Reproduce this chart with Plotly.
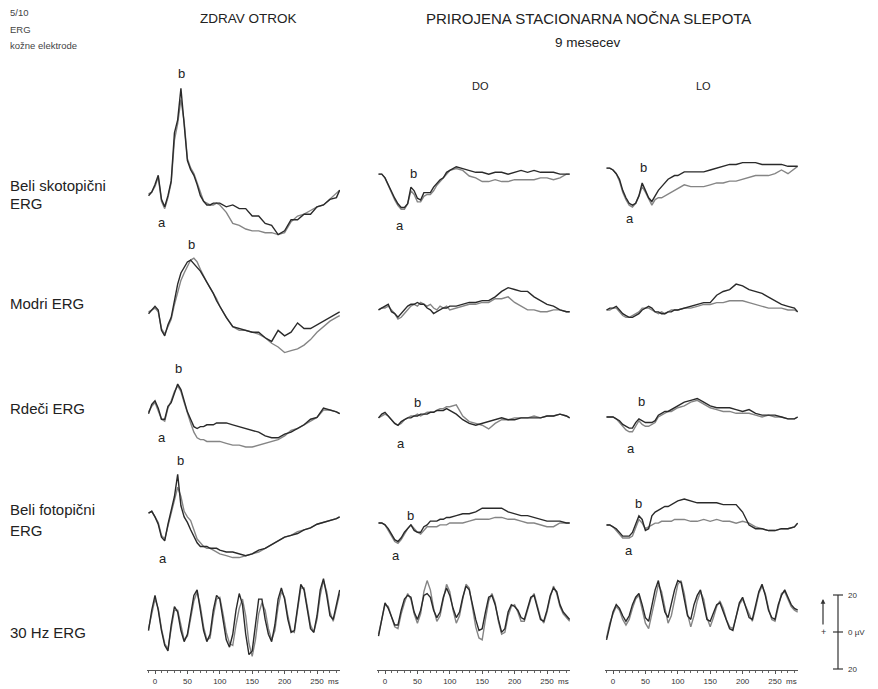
import plotly.graph_objects as go

# ---------------- data (µV, relative to pre-stimulus baseline) ----------------
t_ms = [-10, -5, 0, 5, 10, 15, 20, 25, 30, 35, 40, 45, 50, 55, 60, 65, 70, 75, 80, 85, 90, 95, 100,
        110, 120, 130, 140, 150, 160, 170, 180, 190, 200, 210, 220, 230, 240, 250, 260, 270, 280, 285]
t_flicker = list(range(-10, 290, 5))

# Beli skotopični ERG
skot_zdrav_a = [-2, 0, 4, 9, -4, -8, -2, 6, 32, 39, 56, 36, 17, 12, 9, 4, -2, -5, -7, -7, -6, -6, -6,
                -8, -7, -9, -9, -13, -13, -17, -18, -23, -21, -15, -15, -12, -12, -8, -7, -4, -3, 1]
skot_zdrav_b = [-1, 0, 3, 8, -5, -9, -3, 5, 28, 37, 50, 38, 18, 13, 10, 5, -1, -5, -6, -7, -7, -6, -7,
                -11, -17, -18, -20, -21, -21, -22, -22, -23, -22, -16, -13, -12, -10, -8, -7, -4, -1, 1]
skot_do_a = [1, 1, -1, -5, -9, -12, -15, -17, -17, -15, -6, -8, -12, -13, -9, -9, -9, -6, -4, -2, -1, 2, 3,
             5, 4, 3, 2, 2, 1, 2, 2, 1, 2, 3, 2, 3, 2, 2, 2, 1, 1, 1]
skot_do_b = [1, 1, -1, -5, -10, -13, -16, -18, -18, -15, -8, -10, -14, -14, -11, -10, -10, -8, -5, -3, -1, 1, 3,
             4, 3, 0, -1, -3, -3, -2, -3, -3, -2, -2, -2, -2, -1, -1, -2, -1, 1, 1]
skot_lo_a = [1, 1, 0, -2, -5, -11, -15, -18, -19, -18, -14, -7, -11, -15, -17, -14, -11, -9, -7, -5, -4, -3, -3,
             -1, -1, -1, -1, 0, 1, 2, 3, 3, 4, 4, 4, 3, 3, 3, 3, 2, 2, 2]
skot_lo_b = [1, 1, 0, -2, -6, -12, -16, -19, -20, -18, -14, -9, -12, -16, -19, -16, -15, -15, -14, -13, -12, -11, -10,
             -8, -9, -9, -9, -8, -7, -7, -6, -6, -5, -4, -3, -3, -3, -2, 0, -2, 1, 2]

# Modri ERG
modri_zdrav_a = [-2, 0, 2, 0, -11, -14, -8, -4, 5, 14, 20, 23, 26, 27, 25, 23, 21, 18, 15, 12, 9, 5, 2,
                 -4, -9, -10, -11, -12, -12, -15, -17, -11, -14, -12, -7, -10, -10, -8, -6, -4, -2, -1]
modri_zdrav_b = [-1, 0, 1, -1, -10, -13, -9, -5, 3, 10, 16, 20, 24, 27, 28, 26, 22, 18, 15, 12, 9, 6, 2,
                 -4, -9, -11, -11, -12, -13, -15, -18, -20, -23, -22, -21, -19, -16, -12, -9, -6, -4, -3]
modri_do_a = [-1, 0, 1, 2, -2, -3, -5, -3, -1, 1, 2, 2, 3, 2, 2, 0, -1, -3, -2, -1, 0, 0, 1,
              1, 2, 3, 3, 4, 4, 6, 9, 11, 10, 9, 9, 6, 4, 2, 1, -1, -2, -2]
modri_do_b = [-1, 0, 0, 1, -1, -3, -6, -5, -3, -1, 1, 2, 1, 3, 2, 1, 2, 0, -1, 1, 0, 1, -1,
              0, 1, 2, 2, 3, 3, 5, 5, 6, 3, 1, -1, -1, -2, -2, -1, -1, -2, -2]
modri_lo_a = [0, 1, 1, 2, 0, -2, -3, -4, -4, -3, -2, 0, 1, 2, 1, -1, -1, -2, -2, -1, -1, 0, 0,
              1, 2, 3, 4, 4, 8, 10, 11, 14, 13, 11, 10, 9, 7, 5, 3, 2, 1, -1]
modri_lo_b = [0, 0, 1, 1, -1, -3, -4, -4, -3, -2, -1, 1, 1, 1, 0, -1, -2, -1, -2, -1, 0, 0, 0,
              1, 1, 2, 3, 3, 4, 4, 5, 5, 5, 4, 3, 2, 1, 1, 1, 0, 0, -1]

# Rdeči ERG
rdeci_zdrav_a = [-2, 3, 5, 1, -5, -5, 2, 4, 9, 14, 11, 5, -1, -5, -9, -10, -9, -9, -8, -8, -8, -7, -7,
                 -7, -8, -9, -10, -11, -12, -14, -15, -15, -13, -12, -10, -8, -5, -4, 1, 0, -1, -2]
rdeci_zdrav_b = [-1, 2, 4, 0, -5, -6, 1, 5, 10, 13, 10, 4, -2, -7, -12, -15, -16, -16, -17, -17, -17, -17, -17,
                 -18, -19, -19, -20, -20, -19, -18, -17, -16, -14, -11, -10, -8, -6, -4, 0, 0, -1, -2]
rdeci_do_a = [-1, 1, 2, 0, -2, -4, -5, -3, -2, -1, -1, 0, 0, 1, 1, 1, 2, 2, 3, 3, 3, 4, 3,
              1, -2, -4, -5, -4, -3, -2, -1, -2, -2, -1, -1, -1, -1, 0, 0, 1, 0, -1]
rdeci_do_b = [-1, 0, 1, 0, -2, -4, -5, -4, -2, -1, 0, 0, 1, 0, 1, 2, 2, 2, 3, 4, 4, 5, 5,
              6, 0, -3, -4, -5, -7, -4, -2, -2, -1, -1, -1, 0, -1, 0, 0, 1, 0, -1]
rdeci_lo_a = [0, 0, 0, -1, -2, -4, -5, -6, -6, -3, -1, -2, -3, -3, -3, -2, 1, 2, 3, 3, 4, 5, 6,
              8, 9, 10, 8, 6, 5, 5, 5, 4, 3, 4, 2, 1, 1, 1, 0, -1, -1, 0]
rdeci_lo_b = [0, 0, 0, -1, -3, -5, -7, -8, -8, -5, -2, -4, -5, -5, -4, -3, 0, 1, 2, 3, 3, 4, 5,
              6, 8, 9, 7, 5, 4, 3, 3, 2, 2, 2, 1, 0, 1, 0, 0, -1, -1, 0]

# Beli fotopični ERG
foto_zdrav_a = [1, 2, -1, -5, -12, -14, -5, 2, 10, 22, 5, -1, -4, -8, -12, -15, -17, -17, -17, -18, -18, -18, -19,
                -20, -20, -21, -22, -21, -19, -18, -16, -14, -12, -11, -10, -8, -7, -5, -4, -3, -2, -1]
foto_zdrav_b = [1, 2, -1, -4, -11, -13, -6, 1, 9, 15, 10, 2, -1, -3, -8, -13, -15, -17, -18, -18, -19, -20, -21,
                -22, -23, -23, -22, -21, -20, -18, -16, -14, -12, -11, -9, -8, -7, -5, -4, -3, -2, -1]
foto_do_a = [0, 0, -1, -3, -6, -9, -10, -8, -5, -3, -1, -4, -5, -5, -2, -1, 1, 1, 1, 2, 2, 3, 3,
             4, 5, 5, 6, 8, 8, 8, 8, 6, 5, 4, 4, 3, 2, 1, 1, 1, 0, 0]
foto_do_b = [0, 0, -1, -4, -7, -10, -11, -9, -6, -3, -1, -3, -5, -6, -4, -2, -2, -2, -2, -1, -1, -1, 0,
             0, 0, 1, 2, 2, 2, 3, 3, 2, 2, 1, 0, 0, -1, -2, -2, 0, 0, 0]
foto_lo_a = [0, 0, -1, -2, -4, -6, -6, -6, -4, 1, 5, 3, -3, -2, 5, 7, 8, 9, 10, 10, 11, 12, 13,
             14, 13, 12, 12, 12, 12, 11, 11, 11, 7, 0, -2, -2, -3, -3, -2, -2, -1, 1]
foto_lo_b = [0, 0, -1, -3, -5, -7, -7, -7, -6, -2, 3, 1, -2, -1, 0, 1, 1, 2, 2, 2, 2, 3, 3,
             3, 2, 2, 3, 2, 3, 2, 2, 1, 2, 1, -1, -2, -3, -3, -2, -2, -1, 1]

# 30 Hz ERG (flicker)
hz30_zdrav_a = [-3, 8, 16, 8, -3, -11, -14, 0, 10, 7,
                -3, -9, -5, 5, 16, 19, 8, -3, -9, -5,
                8, 16, 14, 3, -8, -12, -5, 8, 17, 11,
                -5, -16, -14, 0, 14, 14, 3, -5, -9, 0,
                14, 20, 14, 3, -4, -3, 11, 22, 19, 8,
                -2, -4, 5, 19, 25, 16, 5, 3, 11, 19]
hz30_zdrav_b = [-2, 7, 14, 9, -2, -10, -13, -2, 8, 8,
                -1, -8, -6, 3, 13, 18, 10, -1, -8, -7,
                5, 14, 15, 6, -4, -10, -11, 0, 9, 14,
                5, -10, -17, -8, 6, 12, 8, -2, -8, -3,
                10, 18, 15, 5, -3, -4, 8, 20, 20, 10,
                0, -4, 3, 16, 24, 18, 7, 2, 9, 17]
hz30_do_a = [-6, 3, 12, 9, 5, 0, 0, 8, 14, 16,
             15, 7, 3, 8, 16, 17, 15, 8, 4, 7,
             15, 20, 16, 9, 4, 7, 15, 21, 19, 11,
             3, -3, -2, 7, 15, 16, 11, 3, -4, -2,
             7, 11, 10, 8, 4, 3, 9, 15, 16, 9,
             3, 2, 8, 16, 20, 18, 11, 7, 5, 3]
hz30_do_b = [-5, 4, 11, 10, 4, -1, -2, 6, 12, 17,
             14, 6, 1, 6, 18, 24, 19, 9, 2, 5,
             14, 22, 18, 8, 1, 5, 14, 22, 20, 9,
             -1, -7, -8, 3, 13, 17, 12, 2, -5, -4,
             5, 10, 11, 7, 2, 2, 8, 14, 17, 10,
             4, 1, 7, 15, 21, 17, 10, 6, 4, 2]
hz30_lo_a = [-8, 0, 7, 11, 9, 5, 2, 5, 11, 15,
             17, 11, 4, 2, 11, 19, 24, 16, 7, 4,
             11, 19, 24, 23, 14, 5, 3, 11, 16, 19,
             11, 3, 2, 7, 11, 12, 7, 2, -2, -3,
             5, 12, 15, 9, 4, 3, 11, 18, 22, 16,
             8, 4, 3, 11, 16, 19, 15, 11, 9, 8]
hz30_lo_b = [-7, 1, 6, 10, 8, 3, 0, 3, 9, 14,
             16, 9, 1, -2, 6, 15, 22, 18, 9, 1,
             5, 14, 22, 24, 17, 6, -1, 5, 13, 18,
             14, 4, -1, 4, 10, 13, 9, 3, -1, -2,
             4, 11, 14, 10, 5, 2, 9, 17, 21, 17,
             9, 3, 2, 10, 17, 18, 14, 10, 8, 7]

row_labels = [["Beli skotopični", "ERG"], ["Modri ERG"], ["Rdeči ERG"],
              ["Beli fotopični", "ERG"], ["30 Hz ERG"]]
tick_values_ms = [0, 50, 100, 150, 200, 250]
scale_uv = 20

panels = [
    [(skot_zdrav_a, skot_zdrav_b), (skot_do_a, skot_do_b), (skot_lo_a, skot_lo_b)],
    [(modri_zdrav_a, modri_zdrav_b), (modri_do_a, modri_do_b), (modri_lo_a, modri_lo_b)],
    [(rdeci_zdrav_a, rdeci_zdrav_b), (rdeci_do_a, rdeci_do_b), (rdeci_lo_a, rdeci_lo_b)],
    [(foto_zdrav_a, foto_zdrav_b), (foto_do_a, foto_do_b), (foto_lo_a, foto_lo_b)],
    [(hz30_zdrav_a, hz30_zdrav_b), (hz30_do_a, hz30_do_b), (hz30_lo_a, hz30_lo_b)],
]
times = [t_ms, t_ms, t_ms, t_ms, t_flicker]

for r, row in enumerate(panels):
    for c, (a, b) in enumerate(row):
        if len(a) != len(times[r]) or len(b) != len(times[r]):
            raise ValueError(f"length mismatch r={r} c={c}: {len(a)} {len(b)} vs {len(times[r])}")

# ---------------- layout constants ----------------
W, H = 878, 689
PX_PER_UV = 1.85
PX_PER_MS = 0.648
COL_X0 = [155, 385, 613]
X_LEFT, X_RIGHT = 8, 185
ROW_BAND = [(55, 252), (252, 362), (362, 462), (462, 572), (572, 670)]
ROW_BASE = [[192, 176, 170], [310, 308, 310], [410, 416, 417], [515, 523, 525], [625, 625, 625]]
DARK, GRAY = "#2a2a2a", "#858585"
FONT = "Liberation Sans, Arial, sans-serif"
TXT = "#222222"

fig = go.Figure()
axes = {}
for r in range(5):
    top, bot = ROW_BAND[r]
    for c in range(3):
        k = r * 3 + c + 1
        s = "" if k == 1 else str(k)
        a, b = panels[r][c]
        for ys, color in ((b, GRAY), (a, DARK)):
            fig.add_trace(go.Scatter(x=times[r], y=ys, mode="lines",
                                     line=dict(color=color, width=1.4),
                                     xaxis="x" + s, yaxis="y" + s, hoverinfo="skip"))
        x0 = COL_X0[c]
        xa = dict(domain=[(x0 - X_LEFT) / W, (x0 + X_RIGHT) / W],
                  range=[-X_LEFT / PX_PER_MS, X_RIGHT / PX_PER_MS],
                  anchor="y" + s, showgrid=False, zeroline=False, fixedrange=True)
        if r == 4:
            xa.update(visible=True, showline=True, linecolor="#555", linewidth=1,
                      ticks="outside", ticklen=3, tickwidth=1, tickcolor="#555",
                      tickmode="array", tickvals=tick_values_ms,
                      tickfont=dict(size=8, color="#333", family=FONT),
                      minor=dict(dtick=10, tick0=0, ticks="outside", ticklen=2, tickcolor="#666"))
        else:
            xa.update(visible=False)
        base = ROW_BASE[r][c]
        ya = dict(domain=[1 - bot / H, 1 - top / H],
                  range=[(base - bot) / PX_PER_UV, (base - top) / PX_PER_UV],
                  anchor="x" + s, visible=False, fixedrange=True)
        axes["xaxis" + s] = xa
        axes["yaxis" + s] = ya


def txt(s, x, y, size, anchor="left", color=TXT):
    return dict(text=s, x=x / W, y=1 - y / H, xref="paper", yref="paper",
                xanchor=anchor, yanchor="middle", showarrow=False,
                font=dict(size=size, color=color, family=FONT))


ann = [
    txt("5/10", 8, 13, 9.5, color="#444"),
    txt("ERG", 8, 30, 9.5, color="#444"),
    txt("kožne elektrode", 8, 46, 9.5, color="#444"),
    txt("ZDRAV OTROK", 248, 18, 13.5, "center"),
    txt("PRIROJENA STACIONARNA NOČNA SLEPOTA", 588, 18, 15, "center"),
    txt("9 mesecev", 588, 42, 13.5, "center"),
    txt("DO", 480, 86, 11, "center"),
    txt("LO", 703, 86, 11, "center"),
]
label_y = [[185, 203], [303], [408], [510, 530], [632]]
for lines, ys in zip(row_labels, label_y):
    for line, y in zip(lines, ys):
        ann.append(txt(line, 8, y, 15))

wave_marks = [("b", 181, 73), ("a", 162, 222), ("b", 413, 173), ("a", 400, 226),
              ("b", 643, 167), ("a", 630, 218), ("b", 191, 244),
              ("b", 178, 368), ("a", 162, 437), ("b", 417, 402), ("a", 401, 443),
              ("b", 641, 401), ("a", 631, 449),
              ("b", 180, 460), ("a", 163, 558), ("b", 410, 515), ("a", 396, 555),
              ("b", 638, 503), ("a", 629, 550)]
for ch, x, y in wave_marks:
    ann.append(txt(ch, x, y, 13, "center"))

for c in range(3):
    k = 13 + c
    ann.append(dict(text="ms", x=276, y=1 - 681 / H, xref="x%d" % k, yref="paper",
                    xanchor="center", yanchor="middle", showarrow=False,
                    font=dict(size=8, color="#333", family=FONT)))

# scale bar
SB_X, SB_ZERO = 838, 632
half = scale_uv * PX_PER_UV
sb_top, sb_bot = SB_ZERO - half, SB_ZERO + half
shapes = []


def pline(x0, y0, x1, y1, w=1.2):
    shapes.append(dict(type="line", xref="paper", yref="paper",
                       x0=x0 / W, y0=1 - y0 / H, x1=x1 / W, y1=1 - y1 / H,
                       line=dict(color="#333", width=w)))


pline(SB_X, sb_top, SB_X, sb_bot)
for yy in (sb_top, SB_ZERO, sb_bot):
    pline(SB_X - 5, yy, SB_X + 5, yy)
ann.append(txt(str(scale_uv), 846, sb_top, 8, color="#333"))
ann.append(txt("0 µV", 846, SB_ZERO, 8, color="#333"))
ann.append(txt(str(scale_uv), 846, sb_bot, 8, color="#333"))
ann.append(txt("+", 823, SB_ZERO, 9, "center", color="#333"))
ann.append(dict(text="", x=823 / W, y=1 - 599 / H, xref="paper", yref="paper",
                showarrow=True, ax=0, ay=27, arrowhead=2, arrowsize=0.8,
                arrowwidth=1.2, arrowcolor="#333"))

fig.update_layout(width=W, height=H, margin=dict(l=0, r=0, t=0, b=0),
                  paper_bgcolor="white", plot_bgcolor="white", showlegend=False,
                  annotations=ann, shapes=shapes, **axes)

fig.write_html("out.html", config={"displayModeBar": False},
               post_script="document.body.style.margin='0';document.body.style.overflow='hidden';")
